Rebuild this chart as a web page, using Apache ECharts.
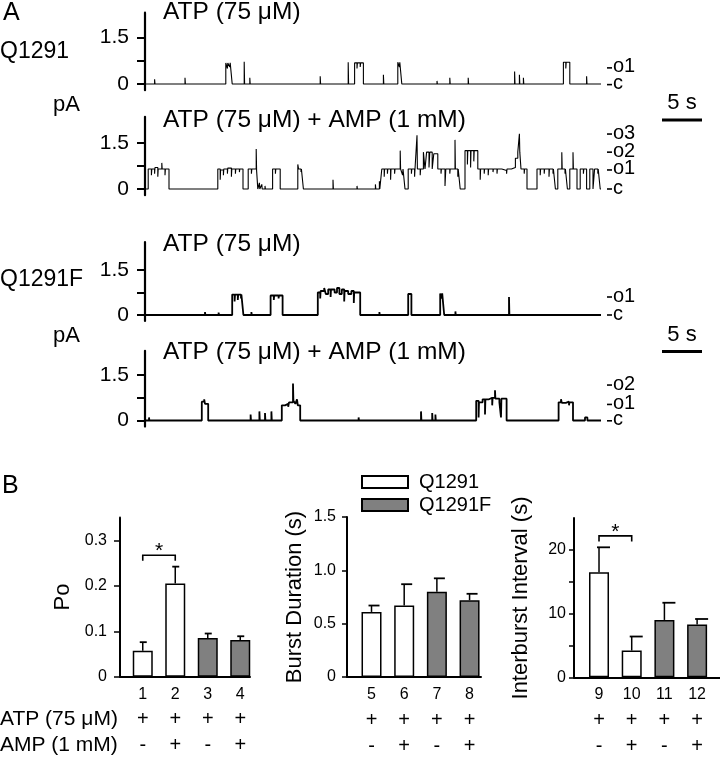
<!DOCTYPE html>
<html><head><meta charset="utf-8">
<script src="https://cdn.jsdelivr.net/npm/echarts@6/dist/echarts.min.js"></script>
<style>html,body{margin:0;padding:0;background:#fff}#c{width:720px;height:758px}</style>
</head><body><div id="c"></div>
<script>
// ================= DATA =================
// Panel A: single-channel recordings as step events [time (s), current (pA)]
const traceQ1291_ATP = [[0,0],[1.2,0.15],[1.25,0],[5.0,0.2],[5.05,0],[10.1,0.68],[10.3,0.5],[10.35,0.68],[10.6,0.55],[10.65,0.68],[10.9,0],[12.4,0.72],[12.45,0],[13.1,0.2],[13.15,0],[21.9,0.25],[21.95,0],[25.4,0.7],[25.45,0],[26.2,0.68],[26.5,0.5],[26.55,0.68],[26.9,0.55],[26.95,0.68],[27.3,0],[29.8,0.3],[29.85,0],[31.6,0.7],[31.8,0.55],[31.85,0.7],[32.1,0],[36.5,0.1],[36.55,0],[38.1,0.2],[38.15,0],[40.4,0.2],[40.45,0],[46.2,0.4],[46.25,0],[46.8,0.3],[46.85,0],[47.3,0.2],[47.35,0],[52.3,0.7],[52.6,0.5],[52.65,0.7],[53.1,0],[55.2,0.25],[55.25,0],[57,0]];
const traceQ1291_ATPAMP = [[0,0],[0.4,0.65],[0.8,0.45],[0.85,0.65],[1.2,0.5],[1.25,0.7],[1.6,0.4],[1.65,0.65],[2.1,0.85],[2.15,0.65],[2.5,0.45],[2.55,0.65],[3.0,0],
[9.1,0.65],[9.4,0.3],[9.45,0.62],[9.8,0.45],[9.85,0.65],[10.3,0.5],[10.35,0.68],[10.8,0.4],[10.85,0.65],[11.3,0.5],[11.35,0.65],[11.8,0.55],[11.85,0.65],[12.25,0],
[12.9,0.65],[13.3,0.5],[13.35,0.65],[13.9,1.3],[13.95,0.6],[14.1,0],[14.3,0.2],[14.35,0],[14.6,0.15],[14.65,0],[15.0,0.1],[15.05,0],
[15.95,0.65],[16.3,0.5],[16.35,0.65],[16.9,0],
[19.1,0.8],[19.2,0.65],[19.5,0.55],[19.55,0.65],[19.8,0],
[23.5,0.3],[23.55,0],[26.5,0.1],[26.55,0],[28.8,0.15],[28.85,0],[29.3,0.25],[29.35,0],
[29.6,0.65],[29.9,0.4],[29.95,0.65],[30.3,0.5],[30.35,0.65],[30.7,0.3],[30.75,0.65],[31.2,0.5],[31.25,0.65],[31.9,1.25],[31.95,0.65],[32.2,0.45],[32.25,0.65],[32.5,0],
[32.9,0.65],[33.3,0.5],[33.35,0.65],[33.7,0.4],[33.75,0.65],[34.0,1.75],[34.05,0.65],[34.4,0.45],[34.45,0.65],[34.8,1.2],[35.0,0.65],[35.2,1.2],[35.5,0.7],[35.6,1.2],[35.9,0.65],[36.1,1.15],[36.6,0.65],[37.0,0.5],[37.05,0.65],[37.5,0.1],[37.6,0.65],[38.1,0.5],[38.15,0.65],[38.75,1.6],[38.8,0.65],[39.1,0.4],[39.15,0.65],[39.4,0],
[40.0,1.25],[40.3,0.8],[40.35,1.25],[40.7,0.7],[40.75,1.25],[41.1,0.9],[41.15,1.25],[41.6,0.65],[41.9,0.3],[41.95,0.65],[42.4,0.5],[42.45,0.65],[42.9,0.45],[42.95,0.65],[43.5,0.55],[43.55,0.65],[44.0,0.5],[44.05,0.65],[44.6,0.6],[45.2,0.5],[45.25,0.65],[45.8,0.7],[46.3,1.0],[46.6,1.2],[46.8,1.8],[46.85,1.2],[47.0,0.65],[47.4,0.5],[47.45,0.65],[47.75,0],
[49.0,0.65],[49.4,0.45],[49.45,0.65],[49.9,0.5],[49.95,0.65],[50.5,0.4],[50.55,0.65],[51.0,0.5],[51.05,0.65],[51.3,0],[51.6,0.65],[52.1,1.2],[52.15,0.65],[52.5,0.5],[52.55,0.65],[52.8,0],[53.1,0.65],[53.5,1.2],[53.55,0.65],[54.0,0],[54.4,0.65],[54.8,0.5],[54.85,0.65],[55.2,0],[55.6,0.65],[56.0,0],[56.2,0.65],[56.6,0.5],[56.65,0.65],[56.9,0],[57,0]];
const traceQ1291F_ATP = [[0,0],[7.5,0.1],[7.55,0],[9.2,0.08],[9.25,0],[10.9,0.68],[11.2,0.45],[11.25,0.68],[11.6,0.5],[11.65,0.68],[12.0,0.55],[12.05,0.68],[12.3,0],[13.3,0.1],[13.35,0],[15.7,0.65],[16.1,0.5],[16.15,0.65],[16.7,0.55],[16.75,0.65],[17.2,0],[21.6,0.75],[21.9,0.55],[21.95,0.8],[22.4,0.9],[22.6,0.7],[22.9,0.85],[23.2,0.6],[23.25,0.85],[23.7,0.75],[24.0,0.9],[24.3,0.7],[24.6,0.85],[24.9,0.45],[24.95,0.8],[25.4,0.7],[25.8,0.8],[26.1,0.4],[26.15,0.75],[26.9,0],[29.3,0.1],[29.35,0],[32.9,0.7],[33.3,0],[36.9,0.72],[37.1,0.55],[37.15,0.72],[37.4,0],[38.8,0.12],[38.85,0],[45.5,0.6],[45.55,0],[57,0]];
const traceQ1291F_ATPAMP = [[0,0],[0.5,0.1],[0.55,0],[7.1,0.62],[7.4,0.7],[7.5,0.55],[7.9,0],[13.2,0.2],[13.25,0],[14.3,0.3],[14.35,0],[15.0,0.25],[15.05,0],[15.8,0.3],[15.85,0],[17.1,0.5],[17.5,0.55],[17.9,0.45],[18.0,0.6],[18.5,1.22],[18.55,0.65],[18.8,0.55],[19.0,0.7],[19.1,0.5],[19.4,0],[26.7,0.1],[26.75,0],[34.5,0.3],[34.55,0],[35.9,0.25],[35.95,0],[36.3,0.2],[36.35,0],[41.4,0.65],[41.7,0.1],[41.75,0.6],[42.2,0.7],[42.5,0.2],[42.55,0.7],[43.0,0.75],[43.4,0.5],[43.45,0.75],[43.75,1.0],[43.8,0.72],[44.3,0.6],[44.5,0.1],[44.55,0.72],[45.2,0],[51.7,0.6],[52.0,0.7],[52.1,0.58],[52.6,0.62],[53.0,0.5],[53.05,0.6],[53.5,0],[55.0,0.1],[55.3,0],[57,0]];
const traces = [traceQ1291_ATP, traceQ1291_ATPAMP, traceQ1291F_ATP, traceQ1291F_ATPAMP];
const traceTitles = ['ATP (75 μM)', 'ATP (75 μM) + AMP (1 mM)', 'ATP (75 μM)', 'ATP (75 μM) + AMP (1 mM)'];
const traceDuration = 57;          // s
const traceYTicks = [0, 0.75, 1.5]; // pA
const traceYLabels = [0, 1.5];
const levelLabels = [
  [['o1', 0.52], ['c', -0.02]],
  [['o3', 1.79], ['o2', 1.2], ['o1', 0.62], ['c', 0.0]],
  [['o1', 0.6], ['c', 0.0]],
  [['o2', 1.17], ['o1', 0.53], ['c', -0.01]]
];
const scaleBarSeconds = 5;
const scaleBarLabel = '5 s';

// Panel B
const groupNames = ['Q1291', 'Q1291F'];
const poCats = ['1', '2', '3', '4'];
const poMean = [0.057, 0.205, 0.085, 0.081];
const poErr  = [0.076, 0.242, 0.095, 0.089];
const bdCats = ['5', '6', '7', '8'];
const bdMean = [0.61, 0.67, 0.80, 0.72];
const bdErr  = [0.67, 0.87, 0.925, 0.78];
const ibCats = ['9', '10', '11', '12'];
const ibMean = [16.5, 4.2, 9.0, 8.3];
const ibErr  = [20.4, 6.4, 11.7, 9.15];
const atpRow = ['+', '+', '+', '+'];
const ampRow = ['-', '+', '-', '+'];
const poTicks = [0, 0.1, 0.2, 0.3];
const bdTicks = [0, 0.5, 1.0, 1.5];
const ibTicks = [0, 10, 20];
const ibMinorTicks = [0, 5, 10, 15, 20];
const poSig = [1, 2, 0.267, 0.255];   // [x1, x2, bracket top, bracket ends]
const ibSig = [1, 2, 22.2, 21.3];

// ================= LAYOUT =================
const FF = '"Liberation Sans", Arial, Helvetica, sans-serif';
const traceLayout = [
  {zero: 84, ppu: 31.0, min: -0.2, max: 2.3},
  {zero: 189, ppu: 30.7, min: -0.2, max: 2.35},
  {zero: 315, ppu: 30.0, min: -0.2, max: 2.43},
  {zero: 420.5, ppu: 30.3, min: -0.2, max: 2.3}
];
const TL = 145, TW = 456;

const chart = echarts.init(document.getElementById('c'), null, {renderer: 'canvas'});

const grids = [], xAxes = [], yAxes = [], series = [];
traceLayout.forEach((L, i) => {
  grids.push({left: TL, width: TW, top: L.zero - L.max * L.ppu, height: (L.max - L.min) * L.ppu});
  xAxes.push({type: 'value', gridIndex: i, min: 0, max: traceDuration, show: false});
  yAxes.push({
    type: 'value', gridIndex: i, min: L.min, max: L.max, position: 'left',
    axisLine: {show: true, lineStyle: {color: '#000', width: 2.2}},
    axisTick: {show: true, customValues: traceYTicks, length: 8, lineStyle: {color: '#000', width: 2}},
    axisLabel: {customValues: traceYLabels, margin: 16, fontSize: 21, fontFamily: FF, color: '#000',
      hideOverlap: false, formatter: v => (v === 0 ? '0' : String(v))},
    splitLine: {show: false}
  });
});
traces.forEach((d, i) => {
  series.push({type: 'line', xAxisIndex: i, yAxisIndex: i, data: d, step: 'end', symbol: 'none', showSymbol: false,
    lineStyle: {color: '#000', width: i < 2 ? 1.1 : 1.8}, silent: true, animation: false});
});

// Panel B charts
const bCharts = [
  {left: 120, top: 517.5, width: 130, height: 159.25, xmin: 0.3, xmax: 4.3, ymax: 0.35,
   cats: poCats, mean: poMean, err: poErr, ticks: poTicks, minor: poTicks, margin: 13, tickLen: 6, sig: poSig,
   fmt: v => (v === 0 ? '0' : v.toFixed(1)), cap: [3, 4]},
  {left: 347, top: 517, width: 134, height: 160, xmin: 0.25, xmax: 4.35, ymax: 1.5,
   cats: bdCats, mean: bdMean, err: bdErr, ticks: bdTicks, minor: bdTicks, margin: 11, tickLen: 5, sig: null,
   fmt: v => (v === 0 ? '0' : v.toFixed(1)), cap: [3, 8]},
  {left: 574, top: 518, width: 146, height: 159.3, xmin: 0.235, xmax: 4.7, ymax: 25,
   cats: ibCats, mean: ibMean, err: ibErr, ticks: ibTicks, minor: ibMinorTicks, margin: 8, tickLen: 5, sig: ibSig,
   fmt: v => String(v), cap: [2, 11]}
];
bCharts.forEach((c, k) => {
  const gi = 4 + k;
  grids.push({left: c.left, top: c.top, width: c.width, height: c.height});
  xAxes.push({
    type: 'value', gridIndex: gi, min: c.xmin, max: c.xmax,
    axisLine: {show: true, onZero: false, lineStyle: {color: '#000', width: 2}},
    axisTick: {show: false},
    splitLine: {show: false},
    axisLabel: {customValues: [1, 2, 3, 4], margin: 5, hideOverlap: false,
      formatter: v => { const i = Math.round(v) - 1; return '{n|' + c.cats[i] + '}\n{s|' + atpRow[i] + '}\n{s|' + ampRow[i] + '}'; },
      rich: {
        n: {fontSize: 16, lineHeight: 25, fontFamily: FF, color: '#000'},
        s: {fontSize: 20, lineHeight: 26, fontFamily: FF, color: '#000'}
      }}
  });
  yAxes.push({
    type: 'value', gridIndex: gi, min: 0, max: c.ymax,
    axisLine: {show: true, lineStyle: {color: '#000', width: 2}},
    axisTick: {show: true, customValues: c.minor, length: c.tickLen, lineStyle: {color: '#000', width: 1.5}},
    axisLabel: {customValues: c.ticks, margin: c.margin, color: '#000', fontFamily: FF, fontSize: 16, hideOverlap: false, formatter: c.fmt},
    splitLine: {show: false}
  });
  const xi = 4 + k, yi = 4 + k;
  const barStyle = (fill) => ({color: fill, borderColor: '#000', borderWidth: 1.5});
  series.push({type: 'bar', name: groupNames[0], xAxisIndex: xi, yAxisIndex: yi, barWidth: 20, barGap: '-100%',
    data: [[1, c.mean[0]], [2, c.mean[1]]], itemStyle: barStyle('#ffffff'), silent: true});
  series.push({type: 'bar', name: groupNames[1], xAxisIndex: xi, yAxisIndex: yi, barWidth: 20, barGap: '-100%',
    data: [[3, c.mean[2]], [4, c.mean[3]]], itemStyle: barStyle('#808080'), silent: true});
  const cap = c.cap;
  series.push({type: 'custom', xAxisIndex: xi, yAxisIndex: yi, z: 5, silent: true,
    data: c.cats.map((_, i) => [i + 1, c.mean[i], c.err[i]]),
    encode: {x: 0, y: [1, 2]},
    renderItem: (params, api) => {
      const p0 = api.coord([api.value(0), api.value(1)]);
      const p1 = api.coord([api.value(0), api.value(2)]);
      return {type: 'group', children: [
        {type: 'line', shape: {x1: p0[0], y1: p0[1], x2: p1[0], y2: p1[1]}, style: {stroke: '#000', lineWidth: 1.5}},
        {type: 'line', shape: {x1: p1[0] - cap[0], y1: p1[1], x2: p1[0] + cap[1], y2: p1[1]}, style: {stroke: '#000', lineWidth: 1.8}}
      ]};
    }});
  if (c.sig) {
    series.push({type: 'custom', xAxisIndex: xi, yAxisIndex: yi, z: 5, silent: true,
      data: [c.sig], encode: {x: [0, 1], y: [2, 3]},
      renderItem: (params, api) => {
        const a = api.coord([api.value(0), api.value(3)]);
        const b = api.coord([api.value(0), api.value(2)]);
        const cc = api.coord([api.value(1), api.value(2)]);
        const d = api.coord([api.value(1), api.value(3)]);
        return {type: 'group', children: [
          {type: 'polyline', shape: {points: [a, b, cc, d]}, style: {stroke: '#000', lineWidth: 1.6, fill: null}},
          {type: 'text', x: (b[0] + cc[0]) / 2, y: b[1] - 4,
            style: {text: '*', font: '21px ' + FF, fill: '#000', align: 'center', verticalAlign: 'middle'}}
        ]};
      }});
  }
});

chart.setOption({
  animation: false,
  backgroundColor: '#fff',
  grid: grids,
  xAxis: xAxes,
  yAxis: yAxes,
  legend: {data: groupNames, orient: 'vertical', left: 361, top: 472, itemWidth: 46, itemHeight: 12, itemGap: 3,
    icon: 'rect', selectedMode: false, padding: 0,
    textStyle: {fontSize: 20, fontFamily: FF, color: '#000', padding: [0, 0, 0, 6]}},
  series: series
});

// texts, level markers and scale bars
const T = (text, x, y, size, opt) => Object.assign({type: 'text', x: x, y: y, silent: true,
  style: Object.assign({text: text, font: size + 'px ' + FF, fill: '#000', align: 'left', verticalAlign: 'middle',
    textAlign: 'left', textVerticalAlign: 'middle'}, (opt && opt.style) || {})}, (opt && opt.el) || {});
const barLen = chart.convertToPixel({xAxisIndex: 0}, scaleBarSeconds) - chart.convertToPixel({xAxisIndex: 0}, 0);
const rightX = chart.convertToPixel({xAxisIndex: 0}, traceDuration);
const titleY = [12, 120, 244, 352];
const rot = {el: {rotation: Math.PI / 2}, style: {align: 'center', textAlign: 'center'}};
const g = [
  T('A', 3, 13, 25),
  T('Q1291', 0, 52, 23),
  T('pA', 53, 105, 22),
  T('Q1291F', 0, 280, 23),
  T('pA', 53, 336, 22),
  T('B', 2, 486, 25),
  T('ATP (75 μM)', 0, 719, 21),
  T('AMP (1 mM)', 0, 745, 21),
  T('Po', 63, 597, 22, rot),
  T('Burst Duration (s)', 295, 597, 22, rot),
  T('Interburst Interval (s)', 521, 598, 22, rot)
];
traceTitles.forEach((t, i) => g.push(T(t, 163, titleY[i], 24.5)));
levelLabels.forEach((lv, i) => {
  lv.forEach(([name, val]) => {
    const y = chart.convertToPixel({yAxisIndex: i}, val);
    g.push({type: 'line', silent: true, shape: {x1: rightX + 6, y1: y, x2: rightX + 11, y2: y}, style: {stroke: '#000', lineWidth: 1.6}});
    g.push(T(name, rightX + 12, y - 1, 20));
  });
});
[[103, 120], [335, 351.5]].forEach(([ty, by]) => {
  g.push(T(scaleBarLabel, 682, ty, 22, {style: {align: 'center', textAlign: 'center'}}));
  g.push({type: 'line', silent: true, shape: {x1: 662, y1: by, x2: 662 + barLen, y2: by}, style: {stroke: '#000', lineWidth: 3}});
});
chart.setOption({graphic: g});
</script>
</body></html>
